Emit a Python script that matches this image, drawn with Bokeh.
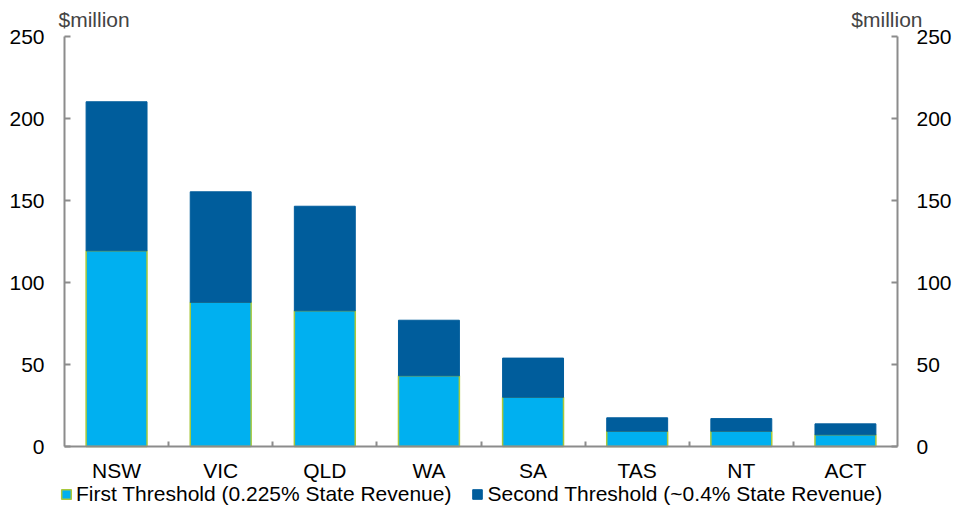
from bokeh.plotting import figure
from bokeh.models import (ColumnDataSource, Range1d, LinearAxis,
                          FixedTicker, Legend, LegendItem, Label)
from bokeh.embed import file_html
from bokeh.resources import INLINE

# ---- data ----
states = ["NSW", "VIC", "QLD", "WA", "SA", "TAS", "NT", "ACT"]
first_threshold = [119.3, 87.9, 82.7, 43.1, 30.0, 9.3, 9.3, 7.1]
second_threshold = [90.9, 67.4, 63.8, 33.9, 23.9, 8.2, 7.7, 6.7]
y_ticks = [0, 50, 100, 150, 200, 250]
y_unit = "$million"
series_names = ["First Threshold (0.225% State Revenue)",
                "Second Threshold (~0.4% State Revenue)"]

n = len(states)
centers = [i + 0.5 for i in range(n)]
totals = [a + b for a, b in zip(first_threshold, second_threshold)]
source = ColumnDataSource(dict(x=centers, state=states, first=first_threshold, total=totals))

# ---- layout (pixels of the 953x506 canvas) ----
W, H = 953, 506
PLOT_L, PLOT_R, PLOT_T, PLOT_B = 64, 897, 36, 446
Y_MAX = y_ticks[-1]
px_per_x = (PLOT_R - PLOT_L) / n
px_per_y = (PLOT_B - PLOT_T) / Y_MAX
x_range = Range1d(-PLOT_L / px_per_x, n + (W - PLOT_R) / px_per_x)
y_range = Range1d(-(H - PLOT_B) / px_per_y, Y_MAX + PLOT_T / px_per_y)

FONT = "Liberation Sans"
FS = "21px"
AXIS_COLOR = "#8C8C8C"
LIGHT = "#00B0F0"
DARK = "#005D9C"
GREEN = "#A8C83A"

p = figure(width=W, height=H, x_range=x_range, y_range=y_range,
           x_axis_location=None, y_axis_location=None,
           output_backend="svg", toolbar_location=None,
           min_border_left=0, min_border_right=0, min_border_top=0, min_border_bottom=0)
p.outline_line_color = None
p.xgrid.visible = False
p.ygrid.visible = False
p.background_fill_color = "white"
p.border_fill_color = "white"

r1 = p.vbar(x="x", top="first", bottom=0, width=0.585, source=source,
            fill_color=LIGHT, line_color=GREEN, line_width=1.5)
r2 = p.vbar(x="x", top="total", bottom="first", width=0.585, source=source,
            fill_color=DARK, line_color=DARK, line_width=1)

# y axes (left and right), pinned to the plot edges
for side, loc in (("left", 0), ("right", n)):
    ax = LinearAxis(ticker=FixedTicker(ticks=y_ticks), fixed_location=loc,
                    bounds=(0, Y_MAX))
    ax.axis_line_color = AXIS_COLOR
    ax.axis_line_width = 2
    ax.major_tick_line_color = AXIS_COLOR
    ax.major_tick_line_width = 2
    ax.major_tick_in = 6
    ax.major_tick_out = 0
    ax.minor_tick_line_color = None
    ax.major_label_text_font = FONT
    ax.major_label_text_font_size = FS
    ax.major_label_text_color = "black"
    ax.major_label_standoff = 20 if side == "left" else 19
    p.add_layout(ax, side)

# x axis line with ticks at category boundaries (no labels)
bax = LinearAxis(ticker=FixedTicker(ticks=list(range(1, n))), fixed_location=0,
                 bounds=(0, n))
bax.axis_line_color = AXIS_COLOR
bax.axis_line_width = 2
bax.major_tick_line_color = AXIS_COLOR
bax.major_tick_line_width = 2
bax.major_tick_in = 5
bax.major_tick_out = 0
bax.minor_tick_line_color = None
bax.major_label_text_color = None
p.add_layout(bax, "below")

# category labels
cax = LinearAxis(ticker=FixedTicker(ticks=centers), fixed_location=0,
                 major_label_overrides={c: s for c, s in zip(centers, states)})
cax.axis_line_color = None
cax.major_tick_line_color = None
cax.minor_tick_line_color = None
cax.major_label_text_font = FONT
cax.major_label_text_font_size = FS
cax.major_label_text_color = "black"
cax.major_label_standoff = 6
p.add_layout(cax, "below")

legend = Legend(items=[LegendItem(label=series_names[0], renderers=[r1]),
                       LegendItem(label=series_names[1], renderers=[r2])],
                orientation="horizontal", location=(60, 0))
legend.label_text_font = FONT
legend.label_text_font_size = FS
legend.label_text_color = "black"
legend.glyph_width = 12
legend.glyph_height = 12
legend.label_standoff = 4
legend.spacing = 20
legend.padding = 0
legend.margin = 0
legend.label_height = 20
legend.border_line_color = None
legend.background_fill_alpha = 0
p.add_layout(legend)

# unit labels above both axes
p.add_layout(Label(x=0, y=Y_MAX, x_offset=-6, y_offset=17, text=y_unit, text_font=FONT,
                   text_font_size=FS, text_align="left", text_baseline="alphabetic"))
p.add_layout(Label(x=n, y=Y_MAX, x_offset=25, y_offset=17, text=y_unit, text_font=FONT,
                   text_font_size=FS, text_align="right", text_baseline="alphabetic"))

open("out.html", "w").write(file_html(p, INLINE))
